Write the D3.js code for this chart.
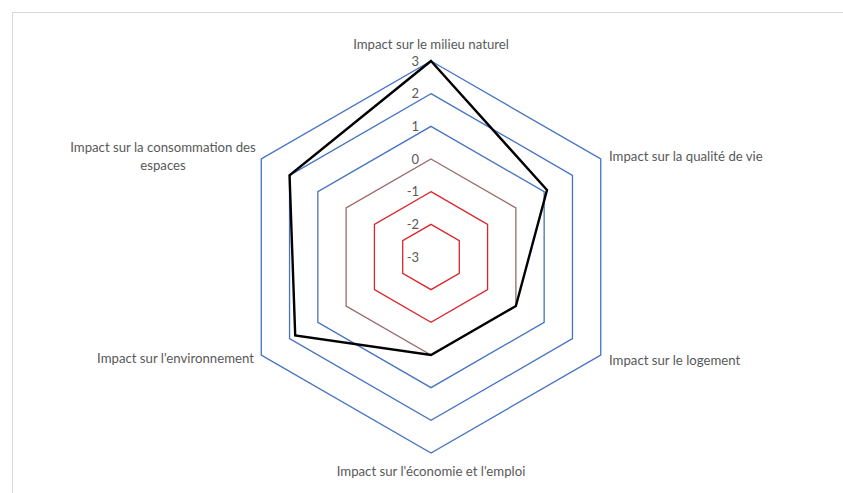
<!DOCTYPE html>
<html>
<head>
<meta charset="utf-8">
<script src="https://cdn.jsdelivr.net/npm/d3@7"></script>
<style>
  html, body { margin: 0; padding: 0; background: #fff; }
  svg { display: block; }
  text { font-family: Lato, "Open Sans", sans-serif; fill: #595959; }
</style>
</head>
<body>
<svg id="chart" width="843" height="493"></svg>
<script>
// Axes of the radar, clockwise from the top
const axes = [
  "Impact sur le milieu naturel",
  "Impact sur la qualité de vie",
  "Impact sur le logement",
  "Impact sur l'économie et l'emploi",
  "Impact sur l'environnement",
  "Impact sur la consommation des espaces"
];
const scores = [3, 1.1, 0, 0, 1.8, 2];
const tickValues = [-3, -2, -1, 0, 1, 2, 3];
const ringValues = [-2, -1, 0, 1, 2, 3];
const ringColors = ["#d9262b", "#d9262b", "#9a6a6a", "#4472c4", "#4472c4", "#4472c4"];

const svg = d3.select("#chart");
const cx = 431, cy = 257, R = 196;

// chart frame
svg.append("rect")
  .attr("x", 12.5).attr("y", 12.5)
  .attr("width", 840).attr("height", 490)
  .attr("fill", "none").attr("stroke", "#d9d9d9");

const r = d3.scaleLinear().domain([-3, 3]).range([0, R]);
const angle = d3.scalePoint().domain(axes).range([0, 2 * Math.PI * (axes.length - 1) / axes.length]);

const g = svg.append("g").attr("transform", `translate(${cx},${cy})`);

const radial = d3.lineRadial()
  .angle(d => angle(d.axis))
  .radius(d => r(d.value))
  .curve(d3.curveLinearClosed);

// grid rings
g.selectAll("path.ring")
  .data(ringValues)
  .join("path")
  .attr("class", "ring")
  .attr("d", v => radial(axes.map(a => ({ axis: a, value: v }))))
  .attr("fill", "none")
  .attr("stroke", (v, i) => ringColors[i])
  .attr("stroke-width", 1.3);

// tick labels along the top axis
g.selectAll("text.tick")
  .data(tickValues)
  .join("text")
  .attr("class", "tick")
  .attr("x", -12)
  .attr("y", v => -r(v))
  .attr("dy", "0.35em")
  .attr("text-anchor", "end")
  .attr("font-size", 13)
  .text(d => d);

// score polygon
g.append("path")
  .attr("d", radial(axes.map((a, i) => ({ axis: a, value: scores[i] }))))
  .attr("fill", "none")
  .attr("stroke", "#000")
  .attr("stroke-width", 2.4)
  .attr("stroke-linejoin", "miter");

// axis labels
const labelPos = [
  { x: 0, y: -213, anchor: "middle", lines: [axes[0]] },
  { x: 178, y: -101, anchor: "start", lines: [axes[1]] },
  { x: 178, y: 103, anchor: "start", lines: [axes[2]] },
  { x: 0, y: 214, anchor: "middle", lines: [axes[3]] },
  { x: -177, y: 101, anchor: "end", lines: [axes[4]] },
  { x: -268, y: -110, anchor: "middle", lines: ["Impact sur la consommation des", "espaces"] }
];
labelPos.forEach(p => {
  const t = g.append("text")
    .attr("x", p.x).attr("y", p.y)
    .attr("text-anchor", p.anchor)
    .attr("font-size", 13.2)
    .attr("dy", "0.35em");
  p.lines.forEach((l, i) => {
    t.append("tspan").attr("x", p.x).attr("dy", i === 0 ? "0.35em" : "1.4em").text(l);
  });
});
</script>
</body>
</html>
